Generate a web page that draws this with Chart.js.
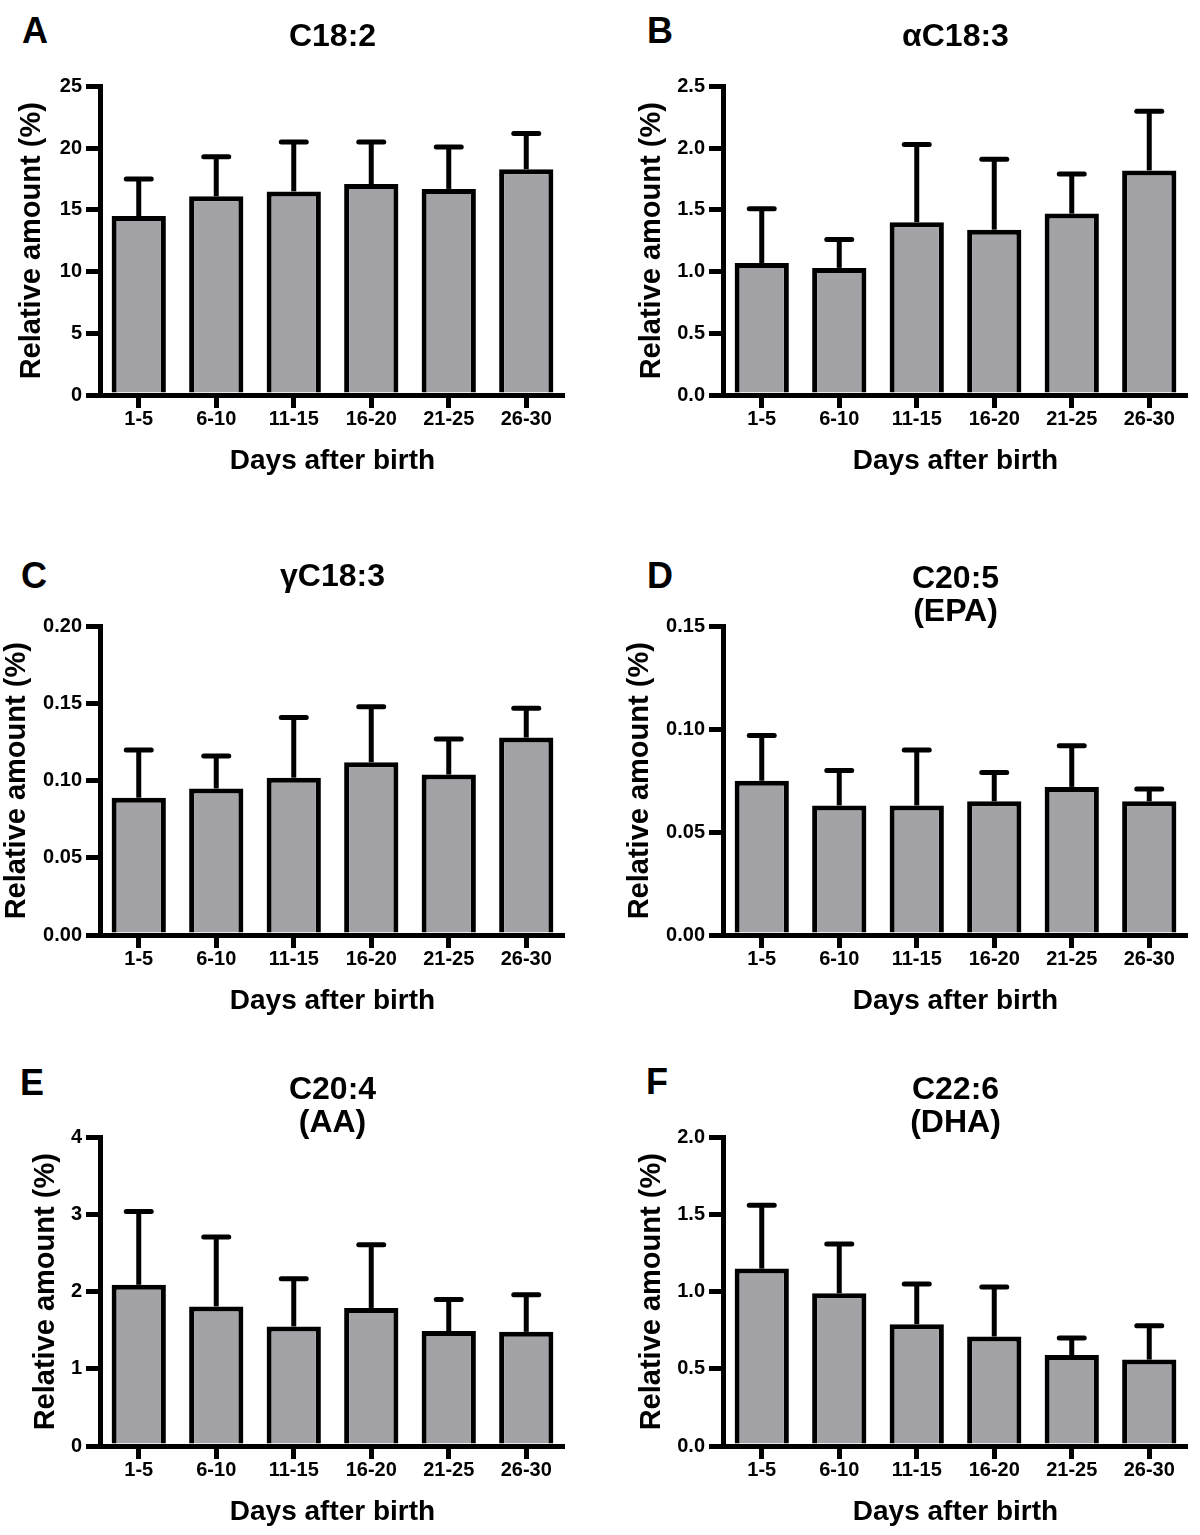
<!DOCTYPE html>
<html>
<head>
<meta charset="utf-8">
<title>Fatty acids in breast milk by days after birth</title>
<script src="https://cdn.jsdelivr.net/npm/chart.js@4.4.0/dist/chart.umd.min.js"></script>
<style>
  body { margin: 0; background: #fff; width: 1200px; height: 1535px; overflow: hidden; position: relative; }
  canvas { position: absolute; }
  .letter { position: absolute; font: bold 36px "Liberation Sans", Arial, sans-serif; line-height: 36px; color: #000; }
</style>
</head>
<body>
<div class="letter" style="left:22px;top:13px">A</div>
<div class="letter" style="left:647px;top:13px">B</div>
<div class="letter" style="left:21px;top:558px">C</div>
<div class="letter" style="left:647px;top:558px">D</div>
<div class="letter" style="left:20px;top:1065px">E</div>
<div class="letter" style="left:646px;top:1064px">F</div>

<canvas id="chartA" width="565" height="493" style="left:0;top:0"></canvas>
<canvas id="chartB" width="588" height="493" style="left:600px;top:0"></canvas>
<canvas id="chartC" width="565" height="493" style="left:0;top:540px"></canvas>
<canvas id="chartD" width="588" height="493" style="left:600px;top:540px"></canvas>
<canvas id="chartE" width="565" height="493" style="left:0;top:1051px"></canvas>
<canvas id="chartF" width="588" height="493" style="left:600px;top:1051px"></canvas>

<script>
// categories
var days = ['1-5', '6-10', '11-15', '16-20', '21-25', '26-30'];

// panel titles
var titles = [
  ['C18:2'],
  ['\u03B1C18:3'],
  ['\u03B3C18:3'],
  ['C20:5', '(EPA)'],
  ['C20:4', '(AA)'],
  ['C22:6', '(DHA)']
];

// mean relative amount (%) and SD
var meanC182 = [14.5, 16.1, 16.5, 17.1, 16.7, 18.3];
var sdC182   = [3.0, 3.2, 4.0, 3.4, 3.4, 2.9];

var meanALA = [1.07, 1.03, 1.40, 1.34, 1.47, 1.82];
var sdALA   = [0.44, 0.23, 0.63, 0.57, 0.32, 0.48];

var meanGLA = [0.089, 0.095, 0.102, 0.112, 0.104, 0.128];
var sdGLA   = [0.031, 0.021, 0.039, 0.036, 0.023, 0.019];

var meanEPA = [0.075, 0.063, 0.063, 0.065, 0.072, 0.065];
var sdEPA   = [0.022, 0.017, 0.027, 0.014, 0.020, 0.006];

var meanAA = [2.09, 1.81, 1.55, 1.79, 1.49, 1.48];
var sdAA   = [0.95, 0.90, 0.62, 0.82, 0.41, 0.48];

var meanDHA = [1.15, 0.99, 0.79, 0.71, 0.59, 0.56];
var sdDHA   = [0.41, 0.32, 0.26, 0.32, 0.11, 0.22];

// y axis ticks
var yMax = [25, 2.5, 0.20, 0.15, 4, 2.0];
var yStep = [5, 0.5, 0.05, 0.05, 1, 0.5];
var yDecimals = [0, 1, 2, 2, 0, 1];

// layout bits
var axisLeft = [100, 123, 100, 123, 100, 123];
var yTitleCenter = [32, 52, 17, 40, 46, 52];
var barGrey = '#a2a2a7';

Chart.defaults.font.family = '"Liberation Sans", Arial, Helvetica, sans-serif';
Chart.defaults.font.weight = 'bold';
Chart.defaults.color = '#000';

// draws mean + SD whiskers on top of the bars
var errorBars = {
  id: 'errorBars',
  afterDatasetsDraw: function(chart, args, opts) {
    var ctx = chart.ctx;
    var yScale = chart.scales.y;
    var meta = chart.getDatasetMeta(0);
    var values = chart.data.datasets[0].data;
    ctx.save();
    ctx.strokeStyle = '#000';
    ctx.lineWidth = 5;
    meta.data.forEach(function(bar, i) {
      var top = yScale.getPixelForValue(values[i] + opts.sd[i]);
      var half = bar.width * 0.23;
      ctx.lineCap = 'butt';
      ctx.beginPath();
      ctx.moveTo(bar.x, bar.y);
      ctx.lineTo(bar.x, top);
      ctx.stroke();
      ctx.lineCap = 'round';
      ctx.beginPath();
      ctx.moveTo(bar.x - half, top);
      ctx.lineTo(bar.x + half, top);
      ctx.stroke();
    });
    ctx.restore();
  }
};

function drawPanel(id, k, mean, sd) {
  var twoLines = titles[k].length > 1;
  var yPad = yTitleCenter[k] - 14.5;
  new Chart(document.getElementById(id), {
    type: 'bar',
    data: {
      labels: days,
      datasets: [{
        data: mean,
        backgroundColor: barGrey,
        borderColor: '#000',
        borderWidth: 5,
        barPercentage: 0.7,
        categoryPercentage: 1
      }]
    },
    options: {
      responsive: false,
      animation: false,
      layout: { padding: 0 },
      plugins: {
        legend: { display: false },
        tooltip: { enabled: false },
        title: {
          display: true,
          text: titles[k],
          fullSize: false,
          color: '#000',
          font: { size: 32, weight: 'bold', lineHeight: 1.05 },
          padding: twoLines ? { top: 22, bottom: -2.7 } : { top: 20, bottom: 32.9 }
        },
        errorBars: { sd: sd }
      },
      scales: {
        x: {
          z: 1,
          offset: true,
          grid: { offset: false, drawOnChartArea: false, tickLength: 13, lineWidth: 5, color: '#000' },
          border: { color: '#000', width: 5 },
          ticks: { font: { size: 20, weight: 'bold', lineHeight: 1 }, padding: 1, maxRotation: 0, autoSkip: false },
          title: {
            display: true,
            text: 'Days after birth',
            font: { size: 28, weight: 'bold', lineHeight: 1 },
            padding: { top: 17.5, bottom: 17.5 }
          }
        },
        y: {
          z: 1,
          min: 0,
          max: yMax[k],
          afterFit: function(scale) { scale.width = axisLeft[k]; },
          grid: { drawOnChartArea: false, tickLength: 14, lineWidth: 5, color: '#000' },
          border: { color: '#000', width: 5 },
          ticks: {
            stepSize: yStep[k],
            padding: 4,
            font: { size: 20, weight: 'bold' },
            callback: function(v) { return Number(v).toFixed(yDecimals[k]); }
          },
          title: {
            display: true,
            text: 'Relative amount (%)',
            font: { size: 29, weight: 'bold', lineHeight: 1 },
            padding: { top: yPad, bottom: yPad }
          }
        }
      }
    },
    plugins: [errorBars]
  });
}

drawPanel('chartA', 0, meanC182, sdC182);
drawPanel('chartB', 1, meanALA, sdALA);
drawPanel('chartC', 2, meanGLA, sdGLA);
drawPanel('chartD', 3, meanEPA, sdEPA);
drawPanel('chartE', 4, meanAA, sdAA);
drawPanel('chartF', 5, meanDHA, sdDHA);
</script>
</body>
</html>
